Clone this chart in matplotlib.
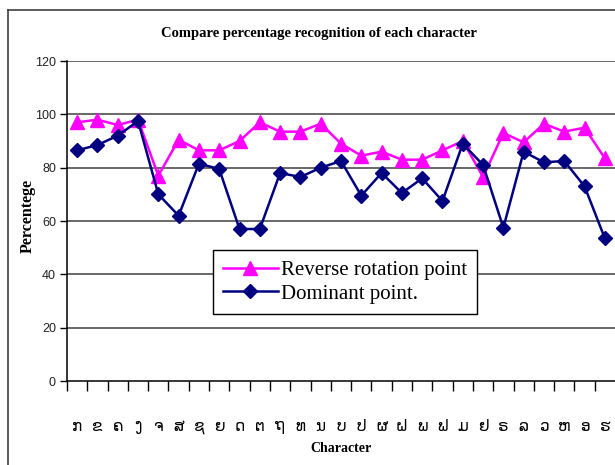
import matplotlib
matplotlib.use("Agg")
import matplotlib.pyplot as plt
from matplotlib.lines import Line2D
import numpy as np

characters = ["ກ", "ຂ", "ຄ", "ງ", "ຈ", "ສ", "ຊ", "ຍ", "ດ", "ຕ", "ຖ", "ທ", "ນ", "ບ",
              "ປ", "ຜ", "ຝ", "ພ", "ຟ", "ມ", "ຢ", "ຣ", "ລ", "ວ", "ຫ", "ອ", "ຮ"]
reverse_rotation = [97, 98, 96, 98, 77, 90.5, 86.5, 86.5, 90, 97, 93.5, 93.5, 96.5, 89,
                    84.5, 86, 83, 83, 86.5, 90, 76.5, 93, 89.5, 96.5, 93.5, 95, 83.5]
dominant = [86.5, 88.5, 92, 97.5, 70, 62, 81.5, 79.5, 57, 57, 78, 76.5, 80, 82.5,
            69.5, 78, 70.5, 76, 67.5, 89, 81, 57.5, 86, 82, 82.5, 73, 53.5]
y_ticks = [0, 20, 40, 60, 80, 100, 120]

W, H = 615, 465
fig = plt.figure(figsize=(W / 100, H / 100), dpi=100)
ax = fig.add_axes([67 / W, 1 - 381 / H, (W - 67) / W, (381 - 61) / H])

x = np.arange(len(characters))
ax.plot(x, reverse_rotation, color="#FF00FF", lw=1.8, marker="^", ms=10,
        label="Reverse rotation point", zorder=3)
ax.plot(x, dominant, color="#000080", lw=1.8, marker="D", ms=7,
        label="Dominant point.", zorder=4)

ax.set_xlim(-0.5, len(characters) - 0.5)
ax.set_ylim(0, 120)
ax.set_yticks(y_ticks)
ax.set_yticklabels([str(v) for v in y_ticks], fontsize=9, family="Liberation Sans", color="#222222")
for v in y_ticks[1:]:
    ax.axhline(v, color="#404040", lw=1.1, zorder=1)

ax.set_xticks(x - 0.5, minor=False)
ax.set_xticklabels([])
ax.set_xticks(x, minor=True)
ax.set_xticklabels(characters, minor=True, fontsize=11, family=["DejaVu Sans"])
ax.tick_params(axis="x", which="major", length=7, width=1, direction="out", color="black")
ax.tick_params(axis="x", which="minor", length=0, pad=27)
ax.tick_params(axis="y", length=5, width=1, direction="out", pad=3)

for s in ["top", "right"]:
    ax.spines[s].set_visible(False)
for s in ["left", "bottom"]:
    ax.spines[s].set_color("black")
    ax.spines[s].set_linewidth(1.1)

fig.text(319 / W, 1 - 33 / H, "Compare percentage recognition of each character",
         ha="center", va="center", fontsize=10.5, fontweight="bold", family="Liberation Serif")
fig.text(28 / W, 1 - 216 / H, "Percentege", rotation=90, ha="center", va="center",
         fontsize=11.5, fontweight="bold", family="Liberation Serif")
fig.text(341 / W, 1 - 448 / H, "Character", ha="center", va="center",
         fontsize=10, fontweight="bold", family="Liberation Serif")

leg = fig.legend(loc="upper left", bbox_to_anchor=(213 / W, 1 - 250 / H),
                 prop={"family": "Liberation Serif", "size": 15},
                 frameon=True, fancybox=False, edgecolor="black", framealpha=1,
                 borderaxespad=0, handlelength=2.6, handletextpad=0.15,
                 labelspacing=0.2, borderpad=0.5)
leg.get_frame().set_linewidth(1.0)
leg.set_zorder(10)

# outer chart frame (cropped)
fig.add_artist(Line2D([8 / W, 8 / W], [0, 1 - 10 / H], color="#404040", lw=1.2))
fig.add_artist(Line2D([8 / W, 1], [1 - 10 / H, 1 - 10 / H], color="#404040", lw=1.2))

fig.savefig("out.png", dpi=100)
